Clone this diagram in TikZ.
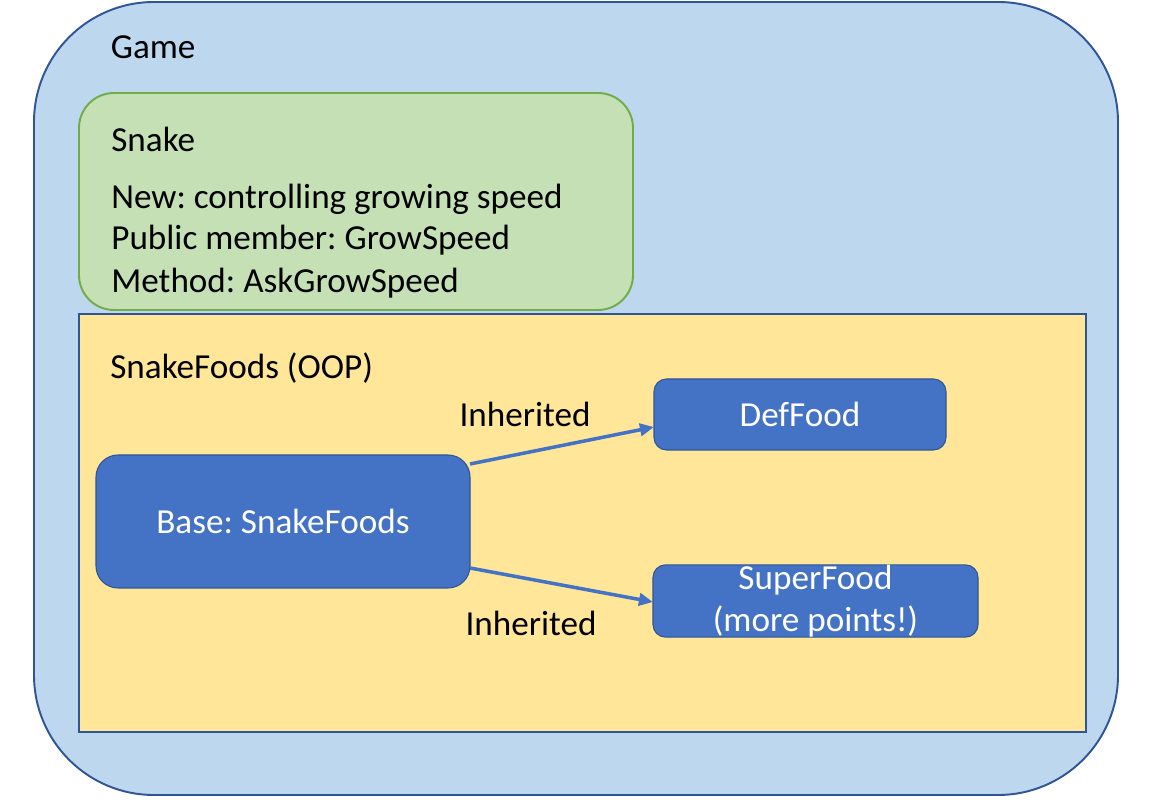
\documentclass[tikz,border=0pt]{standalone}
\usepackage{fontspec}
\setmainfont{Carlito}
\usepackage{tikz}
\usetikzlibrary{arrows.meta}
\frenchspacing

\definecolor{gamefill}{HTML}{BDD7EE}
\definecolor{darkblue}{HTML}{2F5597}
\definecolor{snakefill}{HTML}{C5E0B4}
\definecolor{snakeline}{HTML}{70AD47}
\definecolor{foodsfill}{HTML}{FFE699}
\definecolor{classblue}{HTML}{4472C4}

\begin{document}
\begin{tikzpicture}[font=\fontsize{20}{24}\selectfont,
	label/.style={anchor=base west, inner sep=0},
	foodbox/.style={draw=darkblue, line width=0.6pt, fill=classblue, text=white, inner sep=0, outer sep=0, align=center},
	inherit/.style={draw=classblue, line width=2pt, -{Triangle[length=8pt,width=7pt]}}]
			\useasboundingbox (0,0) rectangle (23.32,16.16);
			\draw[darkblue, line width=1.1pt, fill=gamefill, rounded corners=2.4cm] (0.68,0.26) rectangle (22.36,16.12);
			\node[label] (game) at (2.21,14.98) {Game};
			\draw[snakeline, line width=1.1pt, fill=snakefill, rounded corners=0.7cm] (1.58,9.96) rectangle (12.66,14.3);
			\node[label] (snake) at (2.22,13.12) {Snake};
			\node[label] (l1) at (2.22,11.98) {New: controlling growing speed};
			\node[label] (l2) at (2.22,11.16) {Public member: GrowSpeed};
			\node[label] (l3) at (2.22,10.3) {Method: AskGrowSpeed};
			\draw[darkblue, line width=1.1pt, fill=foodsfill] (1.58,1.52) rectangle (21.72,9.88);
			\node[label] (foods) at (2.2,8.58) {SnakeFoods (OOP)};
			\node[foodbox, rounded corners=0.44cm, minimum width=7.48cm, minimum height=2.66cm] (base) at (5.66,5.73) {Base: SnakeFoods};
			\node[foodbox, rounded corners=0.25cm, minimum width=5.84cm, minimum height=1.42cm] (deffood) at (16.0,7.87) {DefFood};
			\node[foodbox, rounded corners=0.25cm, minimum width=6.5cm, minimum height=1.4cm] (superfood) at (16.31,4.14) {\raisebox{-0.07cm}{SuperFood}\\\raisebox{-0.07cm}{(more points!)}};
			\draw[inherit] ([yshift=-0.18cm]base.north east) -- ([yshift=-0.25cm]deffood.west);
			\draw[inherit] ([yshift=0.4cm]base.south east) -- ([yshift=-0.02cm]superfood.west);
			\node (inh1) at (10.5,7.88) {Inherited};
			\node (inh2) at (10.62,3.7) {Inherited};
		\end{tikzpicture}
\end{document}
